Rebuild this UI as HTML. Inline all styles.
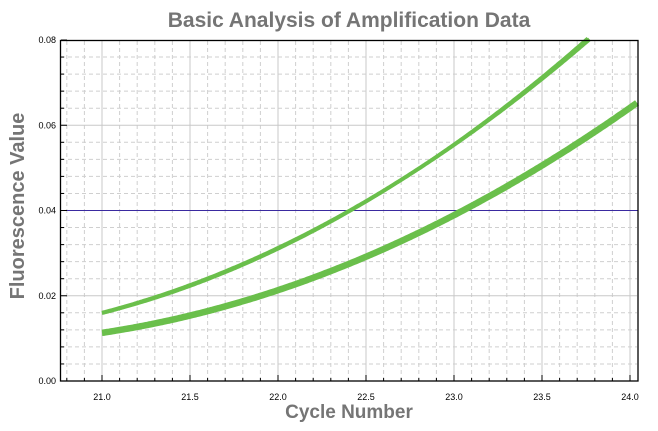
<!DOCTYPE html><html><head><style>body{margin:0;background:#fff}svg{display:block}</style></head><body>
<svg id="s" width="658" height="431" xmlns="http://www.w3.org/2000/svg" font-family="Liberation Sans, sans-serif">
<rect width="658" height="431" fill="#fff"/>
<g id="grid"></g>
<line x1="60.5" y1="210.5" x2="638" y2="210.5" stroke="#3a2aa0" stroke-width="1"/>
<g id="curves" fill="none" stroke="#6abf4b" stroke-linecap="butt"></g>
<rect x="60.5" y="40.5" width="577.5" height="340.5" fill="none" stroke="#000" stroke-width="1.3"/>
<g id="ticks"></g>
<text x="349" y="27" text-anchor="middle" font-size="21" font-weight="bold" fill="#757575">Basic Analysis of Amplification Data</text>
<text x="349" y="418" text-anchor="middle" font-size="19" font-weight="bold" fill="#757575">Cycle Number</text>
<text transform="translate(24,206) rotate(-90)" text-anchor="middle" font-size="20" font-weight="bold" fill="#757575">Fluorescence Value</text>
</svg>
<script>
const NS="http://www.w3.org/2000/svg";
const X=v=>102+(v-21)*176, Y=v=>381-v/0.02*85.25;
function el(p,t,a){const e=document.createElementNS(NS,t);for(const k in a)e.setAttribute(k,a[k]);document.getElementById(p).appendChild(e);return e;}
for(let i=-2;i<=30;i++){const v=21+i*0.1,x=X(v);if(x<61||x>637)continue;
 const maj=i%5==0;el('grid','line',{x1:x,y1:41,x2:x,y2:381,stroke:maj?'#c8c8c8':'#cfcfcf','stroke-dasharray':maj?'':'4,3','stroke-width':1});
 el('ticks','line',{x1:x,y1:381,x2:x,y2:maj?375:378,stroke:'#000'});
 if(maj)el('ticks','text',{x:x,y:400,'text-anchor':'middle','font-size':9,fill:'#000'}).textContent=v.toFixed(1);}
for(let i=1;i<=20;i++){const v=i*0.004,y=Y(v);const maj=i%5==0;
 if(i<20)el('grid','line',{x1:61,y1:y,x2:637,y2:y,stroke:maj?'#c8c8c8':'#cfcfcf','stroke-dasharray':maj?'':'4,3'});
 el('ticks','line',{x1:61,y1:y,x2:maj?67:64,y2:y,stroke:'#000'});}
for(let i=0;i<=4;i++){el('ticks','text',{x:56,y:Y(i*0.02)+3,'text-anchor':'end','font-size':9,fill:'#000'}).textContent=(i*0.02).toFixed(2);}
function curve(f,w){let d='';for(let v=21;v<=24.05;v+=0.01){const y=f(v-21);if(y>0.0805)break;d+=(d?'L':'M')+X(v).toFixed(1)+','+Y(y).toFixed(1);}
 el('curves','path',{d:d,'stroke-width':w});}
curve(t=>0.016+0.0152*t+0.0045*t*(t-1),4);
curve(t=>0.0159+0.0151*t+0.0047*t*(t-1),3.5);
curve(t=>0.0113+0.01*t+0.0038*t*(t-1),6.5);
</script>
</body></html>
